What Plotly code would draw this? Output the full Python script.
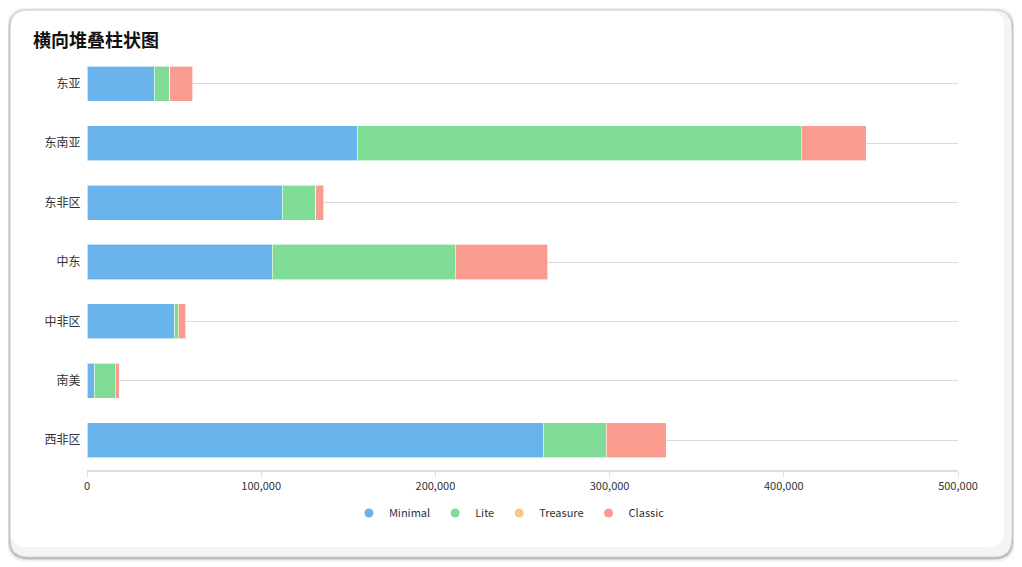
import plotly.graph_objects as go

# data
regions = ['东亚', '东南亚', '东非区', '中东', '中非区', '南美', '西非区']
minimal = [38500, 155000, 112000, 106200, 50000, 4200, 262000]
lite = [9000, 255000, 19200, 105200, 2300, 11900, 36200]
treasure = [0, 0, 0, 0, 0, 0, 0]
classic = [13300, 37300, 4800, 53200, 4300, 2300, 34200]

series = [
    ('Minimal', minimal, '#6ab4ee'),
    ('Lite', lite, '#7edc97'),
    ('Treasure', treasure, '#f9c77f'),
    ('Classic', classic, '#f99c8f'),
]

W, H = 1022, 567
OFF = 8  # page body margin shifts the figure by 8px
L, R, T, B = 87 - OFF, 958 - OFF, 54 - OFF, 470 - OFF
FONT = 'Noto Sans CJK SC, Microsoft YaHei, sans-serif'


def px(x, y):
    # screen pixel position -> paper coordinates (only used for the card decoration)
    x, y = x - OFF, y - OFF
    return (x - L) / (R - L), (B - y) / (B - T)


def rounded(x0, y0, x1, y1, r):
    a = px(x0, y0)
    b = px(x1, y1)
    rx = r / (R - L)
    ry = r / (B - T)
    return (f'M {a[0]+rx},{a[1]} L {b[0]-rx},{a[1]} Q {b[0]},{a[1]} {b[0]},{a[1]-ry} '
            f'L {b[0]},{b[1]+ry} Q {b[0]},{b[1]} {b[0]-rx},{b[1]} '
            f'L {a[0]+rx},{b[1]} Q {a[0]},{b[1]} {a[0]},{b[1]+ry} '
            f'L {a[0]},{a[1]-ry} Q {a[0]},{a[1]} {a[0]+rx},{a[1]} Z')


fig = go.Figure()

for name, vals, color in series:
    fig.add_trace(go.Bar(y=regions, x=vals, name=name, orientation='h',
                         marker=dict(color=color, line=dict(color='rgba(255,255,255,0.6)', width=1)),
                         legendgroup=name, showlegend=False))
    # round legend markers
    fig.add_trace(go.Scatter(x=[None], y=[None], mode='markers', name=name,
                             marker=dict(color=color, size=9, symbol='circle'),
                             legendgroup=name, showlegend=True))

# card with shadow
shapes = []
for off, col in [(4, 'rgba(0,0,0,0.05)'), (2, 'rgba(0,0,0,0.10)'), (1, 'rgba(0,0,0,0.15)')]:
    shapes.append(dict(type='path', xref='paper', yref='paper', layer='below',
                       path=rounded(10 - off, 10 - off + 1, 1012 + off, 557 + off + 1, 18 + off),
                       fillcolor=col, line=dict(width=0)))
shapes.append(dict(type='path', xref='paper', yref='paper', layer='below',
                   path=rounded(10, 10, 1012, 557, 18),
                   fillcolor='#f3f4f6', line=dict(color='#d6d6d6', width=1)))
shapes.append(dict(type='path', xref='paper', yref='paper', layer='below',
                   path=rounded(11, 11, 1004, 547, 16),
                   fillcolor='#ffffff', line=dict(width=0)))

fig.update_layout(
    width=W, height=H,
    margin=dict(l=L, r=W - R, t=T, b=H - B),
    paper_bgcolor='#ffffff', plot_bgcolor='rgba(0,0,0,0)',
    barmode='stack', bargap=0.41,
    font=dict(family=FONT, size=12, color='#333333'),
    title=dict(text='<b>横向堆叠柱状图</b>', xref='container', yref='container',
               x=(33 - OFF) / W, y=1 - (41 - OFF) / H, xanchor='left', yanchor='middle',
               font=dict(size=18, color='#111111', family=FONT)),
    legend=dict(orientation='h', x=0.485, xanchor='center', y=(B - (513 - OFF)) / (B - T), yanchor='middle',
                font=dict(size=11, color='#333333'), itemwidth=30, tracegroupgap=0,
                bgcolor='rgba(0,0,0,0)'),
    shapes=shapes,
)

fig.update_xaxes(range=[0, 500000], dtick=100000, tickformat=',', showgrid=False,
                 showline=True, linecolor='#dddddd', linewidth=1.5,
                 ticks='outside', ticklen=5, tickcolor='#dddddd',
                 tickfont=dict(size=11, color='#333333'), zeroline=False, fixedrange=True)
fig.update_yaxes(autorange='reversed', showgrid=True, gridcolor='#d9d9d9', gridwidth=1,
                 showline=False, ticks='', ticksuffix='  ',
                 tickfont=dict(size=12, color='#333333'), fixedrange=True)

fig.write_html("out.html")
